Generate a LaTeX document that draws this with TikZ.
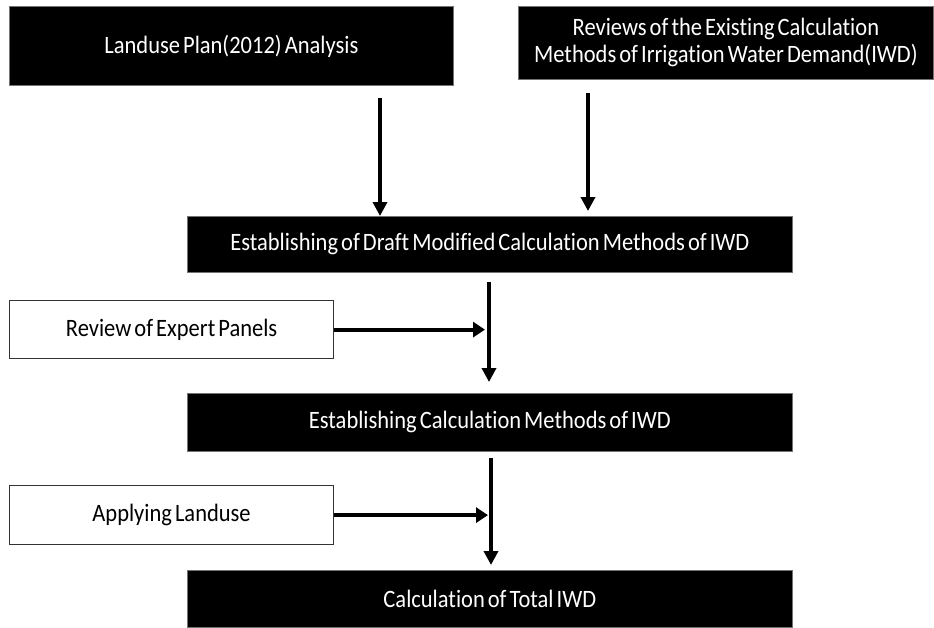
\documentclass[tikz,border=0pt]{standalone}
\usepackage{fontspec}
\setmainfont{Carlito}[FakeStretch=0.9, Ligatures=NoCommon, WordSpace=0.6]
\usetikzlibrary{arrows.meta}
\begin{document}
\begin{tikzpicture}[x=1pt,y=-1pt,
  boxtext/.style={font=\fontsize{25}{27}\selectfont},
  blackbox/.style={boxtext, draw=black!55, line width=0.8pt, fill=black, text=white,
    inner sep=0pt, anchor=north west, align=center},
  whitebox/.style={boxtext, draw=black!80, line width=1.2pt, fill=white, text=black,
    inner sep=0pt, anchor=north west, align=center},
  varrow/.style={line width=3.5pt, -{Triangle[width=14pt,length=14pt]}},
  harrow/.style={line width=3.8pt, -{Triangle[width=15pt,length=12pt]}}]
\useasboundingbox[fill=white] (0,0) rectangle (934,627);

\node[blackbox, minimum width=444pt, minimum height=79pt] (b1) at (9,6)
  {Landuse Plan(2012) Analysis};
\node[blackbox, minimum width=415pt, minimum height=73pt] (b2) at (518,6)
  {Reviews of the Existing Calculation\\Methods of Irrigation Water Demand(IWD)};
\node[blackbox, minimum width=605pt, minimum height=56pt] (b3) at (187,216)
  {Establishing of Draft Modified Calculation Methods of IWD};
\node[whitebox, minimum width=324pt, minimum height=58pt] (b4) at (9,300)
  {Review of Expert Panels};
\node[blackbox, minimum width=605pt, minimum height=58pt] (b5) at (187,393)
  {Establishing Calculation Methods of IWD};
\node[whitebox, minimum width=324pt, minimum height=59pt] (b6) at (9,485)
  {Applying Landuse};
\node[blackbox, minimum width=605pt, minimum height=57pt] (b7) at (187,570)
  {Calculation of Total IWD};

\coordinate (s1) at (380,98);
\coordinate (s2) at (588,93);
\coordinate (s3) at (489,282);
\coordinate (s4) at (491,458);

\draw[varrow] (s1) -- (s1 |- b3.north);
\draw[varrow, shorten >=5pt] (s2) -- (s2 |- b3.north);
\draw[varrow, shorten >=11pt] (s3) -- (s3 |- b5.north);
\draw[harrow, shorten >=4pt] (b4.east) -- (s3 |- b4.east);
\draw[varrow, shorten >=5pt] (s4) -- (s4 |- b7.north);
\draw[harrow, shorten >=3pt] (b6.east) -- (s4 |- b6.east);
\end{tikzpicture}
\end{document}
